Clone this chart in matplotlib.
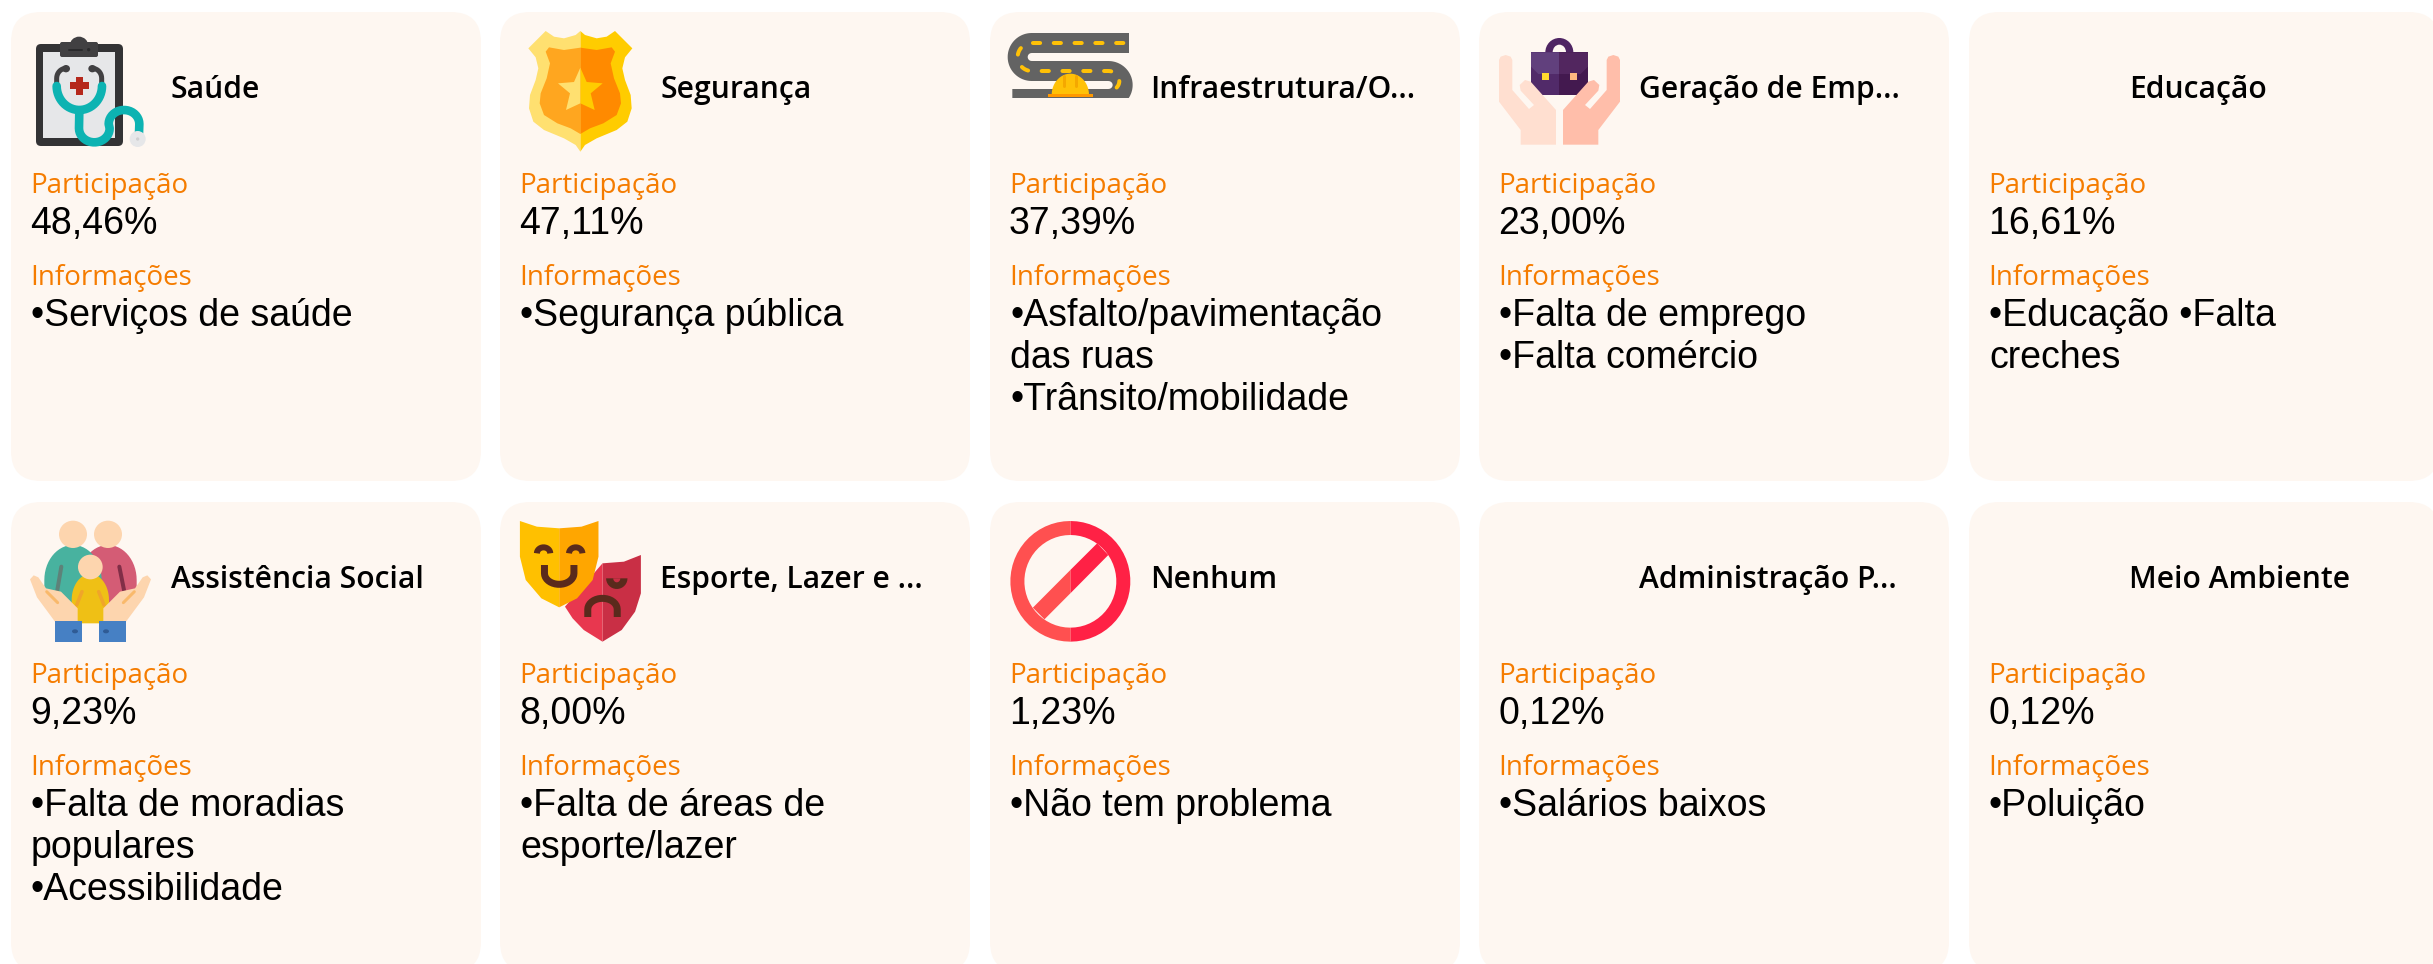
import numpy as np
import matplotlib
matplotlib.use("Agg")
import matplotlib.pyplot as plt
from matplotlib.patches import FancyBboxPatch, Polygon, Ellipse, Rectangle

titles = ["Saúde", "Segurança", "Infraestrutura/O...", "Geração de Emp...", "Educação",
          "Assistência Social", "Esporte, Lazer e ...", "Nenhum", "Administração P...", "Meio Ambiente"]
shares = ["48,46%", "47,11%", "37,39%", "23,00%", "16,61%",
          "9,23%", "8,00%", "1,23%", "0,12%", "0,12%"]
infos = [["•Serviços de saúde"],
         ["•Segurança pública"],
         ["•Asfalto/pavimentação", "das ruas", "•Trânsito/mobilidade"],
         ["•Falta de emprego", "•Falta comércio"],
         ["•Educação •Falta", "creches"],
         ["•Falta de moradias", "populares", "•Acessibilidade"],
         ["•Falta de áreas de", "esporte/lazer"],
         ["•Não tem problema"],
         ["•Salários baixos"],
         ["•Poluição"]]
label_share = "Participação"
label_info = "Informações"

CARD = "#FEF7F1"
ORANGE = "#F57C00"
HEAD = ["Open Sans", "Noto Sans", "DejaVu Sans"]
BODY = ["Liberation Sans", "DejaVu Sans"]

W, H = 2433, 964
fig = plt.figure(figsize=(W / 100, H / 100), dpi=100, facecolor="white")
ax = fig.add_axes([0, 0, 1, 1])
ax.set_xlim(0, W)
ax.set_ylim(H, 0)
ax.axis("off")

card_x = [11, 500, 990, 1479, 1969]
card_y = [12, 502]
CW, CH, R = 470, 470, 30
for i in range(10):
    x, y = card_x[i % 5], card_y[i // 5]
    ax.add_patch(FancyBboxPatch((x + R, y + R), CW - 2 * R, (469 if i < 5 else CH) - 2 * R,
                                boxstyle=f"round,pad={R},rounding_size={R}",
                                fc=CARD, ec="none", zorder=1))
    ax.text(x + 160, y + 86, titles[i], family=HEAD, weight=600, fontsize=21.6, color="black", va="baseline", zorder=5)
    ax.text(x + 19, y + 181, label_share, family=HEAD, weight=400, fontsize=20, color=ORANGE, va="baseline", zorder=5)
    ax.text(x + 19, y + 222, shares[i], family=BODY, fontsize=27, color="black", va="baseline", zorder=5)
    ax.text(x + 19, y + 273, label_info, family=HEAD, weight=400, fontsize=20, color=ORANGE, va="baseline", zorder=5)
    for k, line in enumerate(infos[i]):
        ax.text(x + 20, y + 314 + 42 * k, line, family=BODY, fontsize=27, color="black", va="baseline", zorder=5)


class Icon:
    """Draws in the coordinates of a zoomed crop: origin (ox, oy), scale (sx, sy)."""
    def __init__(self, ox, oy, sx=1 / 3, sy=1 / 3):
        self.ox, self.oy, self.sx, self.sy = ox, oy, sx, sy

    def t(self, pts):
        p = np.asarray(pts, float)
        return np.c_[self.ox + p[:, 0] * self.sx, self.oy + p[:, 1] * self.sy]

    def poly(self, pts, c, z=3):
        ax.add_patch(Polygon(self.t(pts), closed=True, fc=c, ec="none", zorder=z))

    def line(self, pts, c, w, z=3, cap="round", ls="-"):
        p = self.t(pts)
        l, = ax.plot(p[:, 0], p[:, 1], color=c, lw=w * 0.72, solid_capstyle=cap,
                     solid_joinstyle="round", dash_capstyle=cap, ls=ls, zorder=z)
        return l

    def ell(self, cx, cy, rx, ry, c, z=3):
        (x, y), = self.t([[cx, cy]])
        ax.add_patch(Ellipse((x, y), 2 * rx * self.sx, 2 * ry * self.sy, fc=c, ec="none", zorder=z))

    def rect(self, x0, y0, x1, y1, c, z=3):
        self.poly([[x0, y0], [x1, y0], [x1, y1], [x0, y1]], c, z)


def arc(cx, cy, rx, ry, a0, a1, n=30):
    a = np.radians(np.linspace(a0, a1, n))
    return np.c_[cx + rx * np.cos(a), cy + ry * np.sin(a)]


def mir(pts, xc):
    p = np.asarray(pts, float).copy()
    p[:, 0] = 2 * xc - p[:, 0]
    return p


# --- Saúde: clipboard and stethoscope
a = Icon(0, 0)
ax.add_patch(FancyBboxPatch((36 + 5, 44 + 5), 87 - 10, 102 - 10, boxstyle="round,pad=5,rounding_size=5",
                            fc="#333335", ec="none", zorder=3))
a.rect(130, 155, 345, 415, "#E6E7E9", 3)
a.ell(237, 138, 28, 28, "#414042", 4)
ax.add_patch(FancyBboxPatch((60 + 2, 42 + 2), 38 - 4, 15 - 4, boxstyle="round,pad=2,rounding_size=2",
                            fc="#414042", ec="none", zorder=4))
a.line([[207, 149], [245, 149]], "#2A2A2C", 2, 5)
a.ell(266, 149, 5, 5, "#2A2A2C", 5)
a.line(np.r_[[[198, 206]], arc(198, 235, 28, 30, 270, 180, 10), [[170, 255]]], "#414042", 5, 4)
a.line(np.r_[[[277, 206]], arc(277, 235, 28, 30, 270, 360, 10), [[305, 255]]], "#414042", 5, 4)
a.ell(198, 206, 12, 11, "#414042", 4)
a.ell(277, 206, 12, 11, "#414042", 4)
a.rect(227, 230, 248, 285, "#B5281C", 4)
a.rect(209, 247, 266, 268, "#B5281C", 4)
a.line(arc(238, 258, 68, 72, 0, 180), "#0DB3B2", 8.6, 5)
a.line(np.r_[[[238, 330]], arc(283, 385, 46, 42, 180, 0, 20), arc(372, 372, 46, 42, 180, 360, 20), [[417, 400]]],
       "#0DB3B2", 8.6, 5, cap="butt")
a.ell(413, 417, 24, 24, "#E6E7E9", 6)
a.ell(413, 417, 5, 5, "#CFCFD1", 7)

# --- Segurança: shield
a = Icon(490, 0)
outer = [[271, 93], [285, 105], [320, 115], [350, 110], [375, 93], [427, 145], [405, 172], [397, 205],
         [405, 240], [422, 285], [425, 325], [412, 365], [380, 390], [320, 415], [285, 435], [271, 455]]
inner = [[271, 143], [320, 150], [365, 142], [375, 155], [362, 190], [372, 235], [390, 280], [393, 310],
         [380, 345], [340, 370], [300, 385], [271, 402]]
star = [[271, 203], [290, 246], [338, 250], [302, 280], [314, 330], [271, 310]]
a.poly(outer, "#FFCC00", 3)
a.poly(mir(outer, 271), "#FFE070", 3)
a.poly(inner, "#FF8A00", 4)
a.poly(mir(inner, 271), "#FFA61F", 4)
a.poly(star, "#FFCC00", 5)
a.poly(mir(star, 271), "#FFE070", 5)

# --- Infraestrutura: road and helmet
a = Icon(980, 0)
centre = np.r_[[[447, 129]], arc(155, 171, 42, 42, 270, 90, 24), arc(385, 255, 43, 42, 270, 450, 24), [[97, 297]]]
road = a.line(centre, "#636363", 20, 3, cap="butt")
road.set_clip_path(Rectangle((980, 0), 500, 97.7, transform=ax.transData))
a.line(np.r_[[[430, 129]], arc(155, 171, 42, 42, 270, 90, 24), arc(385, 243, 33, 30, 270, 440, 24)],
       "#FFC107", 4, 4, cap="round", ls=(0, (1.8, 3.4)))
a.poly(arc(271, 285, 56, 64, 180, 360, 30), "#FFC107", 5)
a.rect(205, 281, 338, 292, "#FF9800", 6)
a.line([[253, 228], [253, 258]], "#F5A800", 3, 6)
a.line([[289, 228], [289, 258]], "#F5A800", 3, 6)

# --- Geração de Emprego: hands and briefcase
a = Icon(1470, 0)
a.ell(268, 157, 42, 43, "#4F2563", 3)
a.ell(268, 157, 20, 23, CARD, 3.1)
a.rect(183, 157, 268, 284, "#512A69", 3.2)
a.rect(268, 157, 354, 284, "#43194F", 3.2)
a.poly([[183, 157], [268, 157], [268, 222], [205, 222], [183, 200]], "#61407D", 3.3)
a.poly([[268, 157], [354, 157], [354, 200], [332, 222], [268, 222]], "#52265F", 3.3)
a.rect(215, 220, 236, 240, "#FFD92E", 3.4)
a.rect(301, 220, 322, 240, "#FFB980", 3.4)
hand = [[279, 434], [279, 330], [355, 245], [372, 240], [388, 255], [385, 272], [345, 315], [360, 327],
        [410, 270], [410, 180], [415, 170], [430, 165], [445, 170], [450, 180], [450, 305], [385, 390], [385, 434]]
a.poly(hand, "#FFBEAA", 4)
a.poly(mir(hand, 268.5), "#FFDFD0", 4)

# --- Assistência Social: family in hands
a = Icon(0, 490)
a.poly(np.r_[arc(219, 270, 86, 105, 180, 360, 30), [[305, 340]], [[133, 340]]], "#48B29F", 3)
a.poly(np.r_[arc(324, 270, 86, 105, 180, 360, 30), [[410, 340]], [[238, 340]]], "#D45C75", 2.9)
a.line([[184, 230], [172, 300]], "#5E8279", 4, 3.2)
a.line([[358, 230], [372, 300]], "#812E47", 4, 3.2)
a.ell(219, 133, 42, 41, "#FDD5AE", 3.3)
a.ell(324, 133, 42, 41, "#FDD5AE", 3.3)
a.poly(np.r_[arc(271, 330, 56, 78, 180, 360, 30), [[327, 400]], [[216, 400]]], "#EFC015", 3.5)
a.ell(271, 231, 37, 37, "#FDD5AE", 3.6)
a.line([[246, 305], [230, 345]], "#F0A52A", 3.5, 3.7)
a.line([[296, 305], [312, 345]], "#F0A52A", 3.5, 3.7)
hand2 = [[310, 395], [310, 355], [360, 305], [405, 295], [428, 262], [442, 256], [453, 268], [432, 322],
         [378, 395]]
a.poly(hand2, "#FDD5AE", 4)
a.poly(mir(hand2, 271.5), "#FDD5AE", 4)
a.line([[370, 338], [403, 305]], "#F9B96B", 3, 4.5)
a.line([[173, 338], [140, 305]], "#F9B96B", 3, 4.5)
a.rect(165, 393, 247, 455, "#4680C4", 5)
a.rect(296, 393, 378, 455, "#4680C4", 5)
a.ell(225, 424, 9, 6, "#2F5B95", 6)
a.ell(318, 424, 9, 6, "#2F5B95", 6)

# --- Esporte: theatre masks (crop stretched 2.24 x, 3 y)
a = Icon(490, 490, 1 / 2.24, 1 / 3)
a.poly([[252, 220], [300, 215], [338, 195], [338, 310], [325, 365], [295, 420], [252, 455]], "#C92F45", 3)
a.poly([[168, 350], [252, 220], [252, 455], [210, 420], [185, 385]], "#E8374F", 3)
m1 = [[155, 115], [205, 110], [243, 93], [243, 200], [230, 270], [195, 325], [155, 352]]
a.poly(m1, "#FFA600", 4)
a.poly(mir(m1, 155), "#FFC000", 4)
BR = "#5A2A1C"
a.line(arc(120, 190, 15, 18, 180, 360, 14), BR, 6, 5, cap="butt")
a.line(arc(192, 190, 15, 18, 180, 360, 14), BR, 6, 5, cap="butt")
a.line(np.r_[[[122, 225]], arc(155, 250, 33, 33, 180, 0, 18), [[188, 225]]], BR, 7, 5, cap="butt")
a.poly(arc(284, 265, 24, 32, 0, 180, 16), BR, 3.5)
a.poly(arc(284, 265, 8, 12, 0, 180, 10), "#C92F45", 3.6)
a.line(np.r_[[[219, 381]], arc(252, 358, 33, 33, 180, 360, 18), [[285, 381]]], BR, 7, 3.5, cap="butt")

# --- Nenhum: prohibition sign
a = Icon(490, 490, 1 / 2.24, 1 / 3)
cx, cy = 1300, 274
rx, ry = 134.4, 181
ix, iy = 103, 139
ringR = np.r_[arc(cx, cy, rx, ry, -90, 90), arc(cx, cy, ix, iy, 90, -90)]
ringL = np.r_[arc(cx, cy, rx, ry, 90, 270), arc(cx, cy, ix, iy, 270, 90)]
a.poly(ringR, "#FF2145", 3)
a.poly(ringL, "#FF5050", 3)
a.poly([[1300, 240], [1360, 160], [1385, 195], [1300, 310]], "#FF2145", 4)
a.poly([[1300, 240], [1216, 353], [1242, 388], [1300, 310]], "#FF5050", 4)

fig.savefig("out.png", dpi=100, facecolor="white")
